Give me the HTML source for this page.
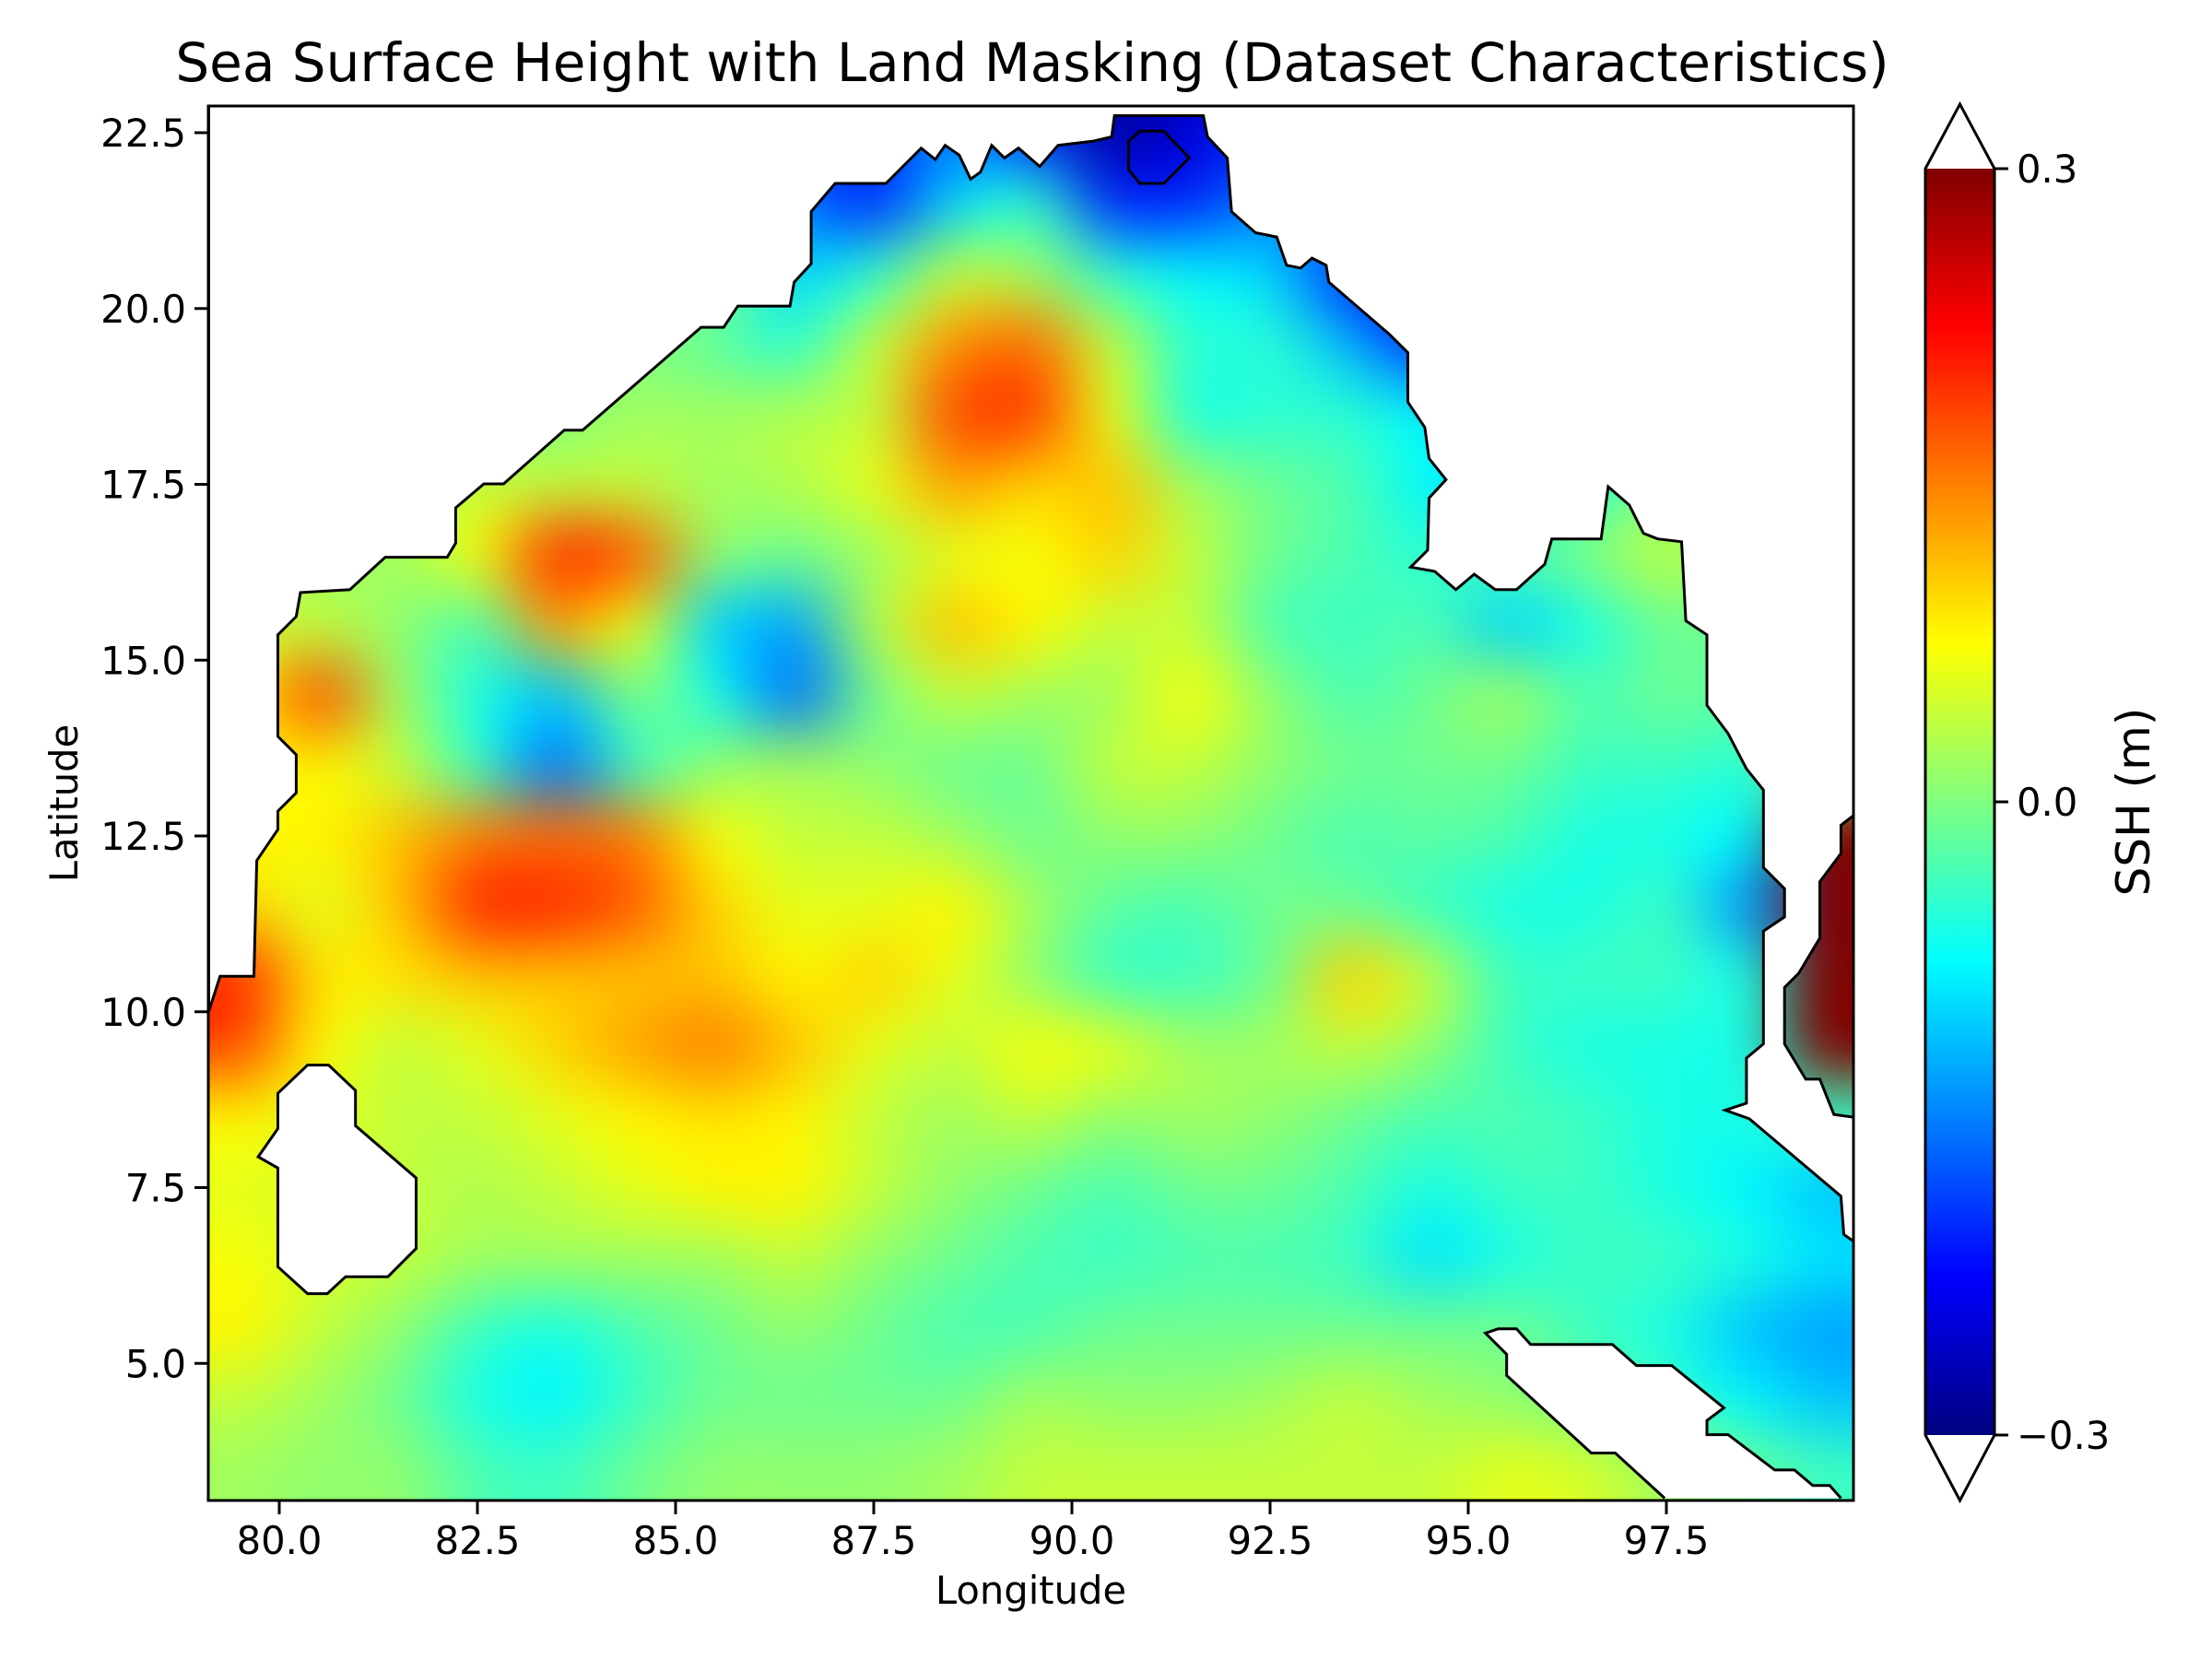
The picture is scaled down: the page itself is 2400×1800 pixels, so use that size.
<!DOCTYPE html>
<html><head><meta charset="utf-8"><style>
html,body{margin:0;padding:0;background:#fff;}
#wrap{position:relative;width:2400px;height:1800px;overflow:hidden;font-family:"DejaVu Sans","Liberation Sans",sans-serif;background:#fff;}
#field{position:absolute;left:0;top:0;}
svg{position:absolute;left:0;top:0;}
</style></head><body>
<div id="wrap">
<canvas id="field" width="2400" height="1800"></canvas>
<svg id="svg" width="2400" height="1800"></svg>
</div>
<script>
const lons=[79.5,80.5,81.5,82.5,83.5,84.5,85.5,86.5,87.5,88.5,89.5,90.5,91.5,92.5,93.5,94.5,95.5,96.5,97.5,98.5,99.5];
const lats=[22.5,21.5,20.5,19.5,18.5,17.5,16.5,15.5,14.5,13.5,12.5,11.5,10.5,9.5,8.5,7.5,6.5,5.5,4.5,3.5];
const sshRows=[
[-0.2,-0.2,-0.2,-0.2,-0.2,-0.2,-0.2,-0.2,-0.2,-0.15,-0.2,-0.28,-0.25,-0.2,-0.2,-0.2,-0.2,-0.2,-0.2,-0.2,-0.2],
[0,0,0,0,0,0,-0.1,-0.15,-0.2,-0.1,-0.05,-0.2,-0.2,-0.15,-0.15,-0.15,-0.15,-0.1,-0.1,-0.1,-0.1],
[0,0,0,0,0,0,0,-0.1,-0.05,0.04,0.02,-0.05,-0.08,-0.1,-0.2,-0.25,-0.2,-0.1,-0.1,-0.1,-0.1],
[0,0,0,0,0,0,-0.02,-0.05,0.04,0.14,0.16,0.04,-0.05,-0.05,-0.12,-0.2,-0.15,-0.1,-0.1,-0.1,-0.1],
[0,0,0,0,0,0.02,0.02,0.03,0.04,0.18,0.19,0.06,-0.06,-0.05,-0.05,-0.08,-0.1,-0.08,-0.05,-0.05,-0.05],
[0.02,0.02,0.02,0.04,0.04,0.04,0.02,0.03,0.06,0.13,0.1,0.11,0.02,-0.01,-0.03,-0.08,-0.1,-0.05,0,0,0],
[0.02,0.02,0.02,0.07,0.2,0.17,0.01,-0.01,0.02,0.06,0.07,0.1,0.04,-0.01,-0.03,-0.05,-0.03,0,0.04,0,0],
[0.04,0.04,0.01,-0.03,0.13,0.06,-0.1,-0.13,0.03,0.11,0.08,0.04,0.04,-0.03,-0.04,-0.03,-0.1,-0.06,-0.01,-0.02,-0.02],
[0.08,0.18,0.02,-0.06,-0.11,0.0,-0.06,-0.16,-0.01,0.04,0.02,0.02,0.07,0.01,-0.03,-0.01,0.02,-0.03,-0.01,-0.02,-0.02],
[0.08,0.08,0.04,-0.04,-0.16,-0.04,0.01,0.02,0.01,-0.01,-0.01,0.04,0.04,0.01,-0.01,-0.01,-0.01,-0.04,-0.04,-0.05,0],
[0.08,0.08,0.11,0.15,0.16,0.15,0.07,0.04,0.04,0.02,-0.01,0.01,0.01,-0.01,-0.03,-0.02,-0.03,-0.06,-0.06,-0.08,0.3],
[0.1,0.06,0.11,0.2,0.2,0.17,0.1,0.06,0.06,0.08,0.02,-0.02,-0.03,-0.01,-0.01,-0.04,-0.06,-0.06,-0.04,-0.14,0.3],
[0.2,0.09,0.09,0.11,0.11,0.11,0.11,0.08,0.1,0.06,0.01,-0.04,-0.04,-0.01,0.1,0.04,-0.04,-0.04,-0.04,-0.06,0.3],
[0.18,0.08,0.04,0.06,0.1,0.13,0.15,0.11,0.06,0.04,0.07,0.06,0.02,0.02,0.04,0.01,-0.04,-0.06,-0.06,-0.06,0.3],
[0.08,0.06,0.04,0.04,0.06,0.08,0.09,0.08,0.04,0.02,0.04,0.01,0.02,0.01,-0.01,-0.03,-0.03,-0.04,-0.06,-0.06,-0.04],
[0.06,0.05,0.04,0.03,0.04,0.06,0.08,0.08,0.04,0.01,-0.01,-0.03,-0.01,-0.01,-0.03,-0.06,-0.04,-0.04,-0.06,-0.08,-0.11],
[0.07,0.05,0.04,0.02,0.02,0.02,0.02,0.04,0.01,-0.01,-0.03,-0.04,-0.03,-0.03,-0.04,-0.09,-0.06,-0.04,-0.04,-0.06,-0.09],
[0.08,0.04,0.01,-0.04,-0.06,-0.03,-0.01,0.01,-0.01,-0.03,-0.03,-0.01,-0.01,-0.01,-0.01,-0.01,-0.01,-0.04,-0.06,-0.11,-0.13],
[0.04,0.02,-0.01,-0.06,-0.08,-0.04,-0.01,-0.01,-0.01,-0.01,0.02,0.01,0.01,0.02,0.04,0.02,0.01,-0.01,-0.04,-0.08,-0.11],
[0.02,0.01,0.01,-0.03,-0.04,-0.01,0.01,0.01,0.01,0.02,0.04,0.04,0.04,0.04,0.04,0.04,0.06,0.05,0.02,-0.01,-0.04]
];
const xTicks=[80.0,82.5,85.0,87.5,90.0,92.5,95.0,97.5];
const yTicks=[5.0,7.5,10.0,12.5,15.0,17.5,20.0,22.5];
const cbTicks=[-0.3,0.0,0.3];
const vmin=-0.3, vmax=0.3;

const AX={l:226,r:2011,t:115,b:1628};
function X(lon){return 303+(lon-80)*86.0;}
function Y(lat){return 144+(22.5-lat)*76.3;}
const CB={l:2089,r:2164,t:183,b:1557};
function CY(v){return CB.b-(v-vmin)/(vmax-vmin)*(CB.b-CB.t);}

function jet(v){
  let t=(v-vmin)/(vmax-vmin); t=Math.max(0,Math.min(1,t));
  function f(a){return Math.max(0,Math.min(1,a));}
  const r=f(1.5-Math.abs(4*t-3)), g=f(1.5-Math.abs(4*t-2)), b=f(1.5-Math.abs(4*t-1));
  return [Math.round(r*255),Math.round(g*255),Math.round(b*255)];
}

const P=2;
const cv=document.getElementById('field'); const ctx=cv.getContext('2d');
const W=lons.length+2*P, H=lats.length+2*P;
const small=document.createElement('canvas'); small.width=W; small.height=H;
const sc=small.getContext('2d'); const img=sc.createImageData(W,H);
for(let j=0;j<H;j++)for(let i=0;i<W;i++){
  const jj=Math.max(0,Math.min(lats.length-1,j-P)), ii=Math.max(0,Math.min(lons.length-1,i-P));
  const c=jet(sshRows[jj][ii]); const k=(j*W+i)*4;
  img.data[k]=c[0];img.data[k+1]=c[1];img.data[k+2]=c[2];img.data[k+3]=255;
}
sc.putImageData(img,0,0);
ctx.save(); ctx.beginPath(); ctx.rect(AX.l,AX.t,AX.r-AX.l,AX.b-AX.t); ctx.clip();
ctx.imageSmoothingEnabled=true; ctx.imageSmoothingQuality='high';
ctx.filter='blur(22px)';
const x0=X(lons[0]-0.5-P), x1=X(lons[lons.length-1]+0.5+P), y0=Y(lats[0]+0.5+P), y1=Y(lats[lats.length-1]-0.5-P);
ctx.drawImage(small,x0,y0,x1-x0,y1-y0);
ctx.restore();

const NS='http://www.w3.org/2000/svg'; const svg=document.getElementById('svg');
function el(tag,attrs,parent){const e=document.createElementNS(NS,tag);for(const k in attrs)e.setAttribute(k,attrs[k]);(parent||svg).appendChild(e);return e;}
const S=1.5306;
function pts(a){return a.map(p=>(p[0]*S).toFixed(1)+','+(p[1]*S).toFixed(1)).join(' ');}
const landMain=[[148,717],[156,692],[180,692],[182,610],[197,588],[197,575],[210,562],[210,535],[197,522],[197,450],[210,437],[213,420],[248,418],[273,395],[317,395],[323,385],[323,360],[343,343],[357,343],[400,305],[413,305],[497,232],[513,232],[523,217],[560,217],[563,200],[575,187],[575,150],[592,130],[628,130],[653,105],[663,113],[670,103],[680,110],[688,127],[695,122],[703,103],[712,112],[722,105],[737,118],[750,103],[775,100],[788,97],[790,82],[853,82],[856,97],[870,112],[873,150],[890,165],[905,168],[912,188],[922,190],[930,183],[940,188],[942,200],[985,237],[998,250],[998,285],[1010,303],[1013,325],[1025,340],[1013,353],[1012,390],[1000,402],[1017,405],[1032,418],[1045,407],[1060,418],[1075,418],[1095,400],[1100,382],[1135,382],[1140,345],[1155,358],[1165,378],[1175,382],[1192,384],[1195,440],[1210,450],[1210,500],[1225,520],[1238,545],[1250,560],[1250,615],[1265,630],[1265,650],[1250,660],[1250,740],[1238,750],[1238,782],[1223,787],[1240,793],[1305,848],[1307,875],[1314,880],[1314,792],[1300,790],[1290,765],[1280,765],[1265,740],[1265,700],[1275,690],[1290,665],[1290,625],[1305,605],[1305,585],[1314,578],[1314,75],[148,75]];
const landSriLanka=[[197,775],[218,755],[233,755],[252,773],[252,798],[295,835],[295,885],[275,905],[245,905],[232,917],[218,917],[197,898],[197,828],[183,820],[197,800]];
const landSE=[[1180,1062],[1145,1030],[1128,1030],[1068,975],[1068,960],[1053,945],[1062,942],[1075,942],[1085,953],[1143,953],[1160,968],[1185,968],[1222,998],[1210,1007],[1210,1017],[1225,1017],[1258,1042],[1272,1042],[1285,1053],[1297,1053],[1305,1062]];
const contourNE=[[800,100],[808,93],[825,93],[843,112],[825,130],[808,130],[800,120]];
el('polygon',{points:pts(landMain),fill:'#fff',stroke:'#000','stroke-width':3,});
el('polygon',{points:pts(landSriLanka),fill:'#fff',stroke:'#000','stroke-width':3,});
el('polygon',{points:pts(landSE),fill:'#fff',stroke:'none',});
el('polyline',{points:pts(landSE),fill:'none',stroke:'#000','stroke-width':3,});
el('polygon',{points:pts(contourNE),fill:'none',stroke:'#000','stroke-width':3,});
el('path',{d:`M0 0H2400V1800H0Z M${AX.l} ${AX.t}V${AX.b}H${AX.r}V${AX.t}Z`,fill:'#fff','fill-rule':'evenodd',});
el('rect',{x:AX.l,y:AX.t,width:AX.r-AX.l,height:AX.b-AX.t,fill:'none',stroke:'#000','stroke-width':3,});
const fs=41.7;
xTicks.forEach(v=>{
  el('line',{x1:X(v),x2:X(v),y1:AX.b,y2:AX.b+15,stroke:'#000','stroke-width':3,});
  const t=el('text',{x:X(v),y:AX.b+58,'font-size':fs,'text-anchor':'middle',});t.textContent=v.toFixed(1);
});
yTicks.forEach(v=>{
  el('line',{x1:AX.l-15,x2:AX.l,y1:Y(v),y2:Y(v),stroke:'#000','stroke-width':3,});
  const t=el('text',{x:AX.l-24,y:Y(v)+15,'font-size':fs,'text-anchor':'end',});t.textContent=v.toFixed(1);
});
let t=el('text',{x:(AX.l+AX.r)/2,y:1740,'font-size':fs,'text-anchor':'middle',});t.textContent='Longitude';
t=el('text',{x:0,y:0,'font-size':fs,'text-anchor':'middle',transform:`translate(84 ${(AX.t+AX.b)/2}) rotate(-90)`,});t.textContent='Latitude';
t=el('text',{x:1120,y:88,'font-size':58,'text-anchor':'middle',});t.textContent='Sea Surface Height with Land Masking (Dataset Characteristics)';
const defs=el('defs',{});
const lg=el('linearGradient',{id:'cbgrad',x1:0,y1:1,x2:0,y2:0},defs);
for(let s=0;s<=24;s++){const c=jet(vmin+(vmax-vmin)*s/24);el('stop',{offset:s/24,'stop-color':'rgb('+c.join(',')+')'},lg);}
el('rect',{x:CB.l,y:CB.t,width:CB.r-CB.l,height:CB.b-CB.t,fill:'url(#cbgrad)',});
const mx=(CB.l+CB.r)/2;
el('polygon',{points:`${CB.l},${CB.t} ${mx},${AX.t-2} ${CB.r},${CB.t} ${CB.r},${CB.b} ${mx},${AX.b} ${CB.l},${CB.b}`,fill:'none',stroke:'#000','stroke-width':3,});
cbTicks.forEach(v=>{
  el('line',{x1:CB.r,x2:CB.r+15,y1:CY(v),y2:CY(v),stroke:'#000','stroke-width':3,});
  const tt=el('text',{x:CB.r+24,y:CY(v)+15,'font-size':fs,});tt.textContent=(v<0?'\u2212':'')+Math.abs(v).toFixed(1);
});
t=el('text',{x:0,y:0,'font-size':fs*1.2,'text-anchor':'middle',transform:`translate(2332 ${(CB.t+CB.b)/2}) rotate(-90)`,});t.textContent='SSH (m)';
</script>
</body></html>
